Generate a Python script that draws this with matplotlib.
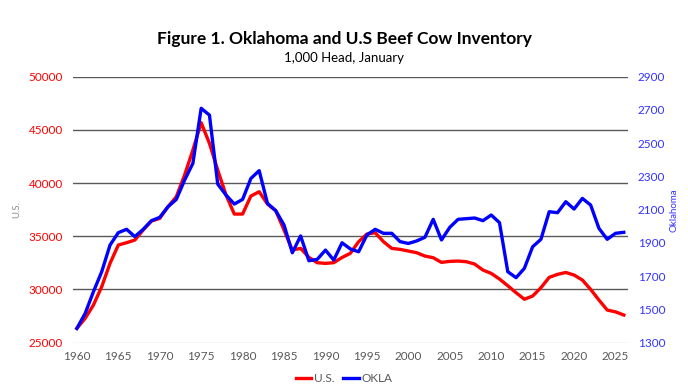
import matplotlib
matplotlib.use("Agg")
import matplotlib.pyplot as plt
from matplotlib.lines import Line2D

years = list(range(1960, 2027))
us = [26347, 27286, 28540, 30262, 32455, 34178, 34398, 34649, 35589, 36433,
      36684, 37780, 38720, 40757, 43107, 45676, 43734, 41226, 38878, 37092,
      37092, 38784, 39191, 38032, 37405, 35589, 33709, 33866, 33020, 32518,
      32455, 32520, 33007, 33400, 34492, 35212, 35337, 34492, 33865, 33771,
      33615, 33458, 33145, 32988, 32549, 32643, 32674, 32612, 32392, 31828,
      31515, 30983, 30356, 29698, 29085, 29385, 30168, 31140, 31421, 31600,
      31359, 30889, 30011, 29009, 28069, 27900, 27600]
okla = [1386, 1476, 1607, 1727, 1887, 1962, 1982, 1938, 1982, 2034,
        2054, 2118, 2162, 2278, 2379, 2710, 2669, 2254, 2188, 2134,
        2162, 2288, 2335, 2138, 2094, 2008, 1841, 1942, 1793, 1801,
        1857, 1797, 1901, 1864, 1847, 1948, 1982, 1958, 1958, 1908,
        1897, 1912, 1934, 2042, 1918, 1994, 2042, 2046, 2050, 2034,
        2068, 2022, 1727, 1691, 1747, 1877, 1922, 2088, 2082, 2148,
        2104, 2168, 2128, 1988, 1922, 1958, 1964]

left_ticks = [25000, 30000, 35000, 40000, 45000, 50000]
right_ticks = [1300, 1500, 1700, 1900, 2100, 2300, 2500, 2700, 2900]
x_ticks = list(range(1960, 2026, 5))

plt.rcParams['font.family'] = ['Lato', 'DejaVu Sans']

fig = plt.figure(figsize=(6.88, 3.90), dpi=100)
ax = fig.add_axes([0.1057, 0.1213, 0.807, 0.682])
ax2 = ax.twinx()

for a in (ax, ax2):
    for s in a.spines.values():
        s.set_visible(False)

ax.set_ylim(25000, 50000)
ax.set_yticks(left_ticks)
ax.set_xlim(1959.5, 2026.5)
ax.set_xticks(x_ticks)
for v in left_ticks[1:]:
    ax.axhline(v, color='#595959', lw=1.0, zorder=1)
ax.axhline(25000, color='#d9d9d9', lw=1.0, zorder=1)

ax2.set_ylim(1300, 2900)
ax2.set_yticks(right_ticks)

ax.plot(years, us, color='#ff0000', lw=2.4, zorder=3)
ax2.plot(years, okla, color='#0000ff', lw=2.4, zorder=3)

ax.tick_params(axis='y', length=0, colors='#ff0000', labelsize=8.5, pad=7)
ax.tick_params(axis='x', length=0, colors='#595959', labelsize=8.5, pad=6)
ax2.tick_params(axis='y', length=0, colors='#3333ff', labelsize=8.5, pad=7)

ax.set_ylabel('U.S.', color='#8c8c8c', fontsize=7, labelpad=5)
ax2.set_ylabel('Oklahoma', color='#3333ff', fontsize=7, labelpad=3)

fig.text(0.5, 0.90, 'Figure 1. Oklahoma and U.S Beef Cow Inventory',
         ha='center', va='center', fontsize=12.5, fontweight='bold')
fig.text(0.5, 0.85, '1,000 Head, January', ha='center', va='center', fontsize=9.5)

handles = [Line2D([], [], color='#ff0000', lw=2.4), Line2D([], [], color='#0000ff', lw=2.4)]
leg = fig.legend(handles, ['U.S.', 'OKLA'], loc='center', bbox_to_anchor=(0.5, 0.03),
                 ncol=2, frameon=False, fontsize=8.5, handlelength=1.3,
                 handletextpad=0.2, columnspacing=0.8)
for t in leg.get_texts():
    t.set_color('#595959')

fig.savefig('out.png', dpi=100)
